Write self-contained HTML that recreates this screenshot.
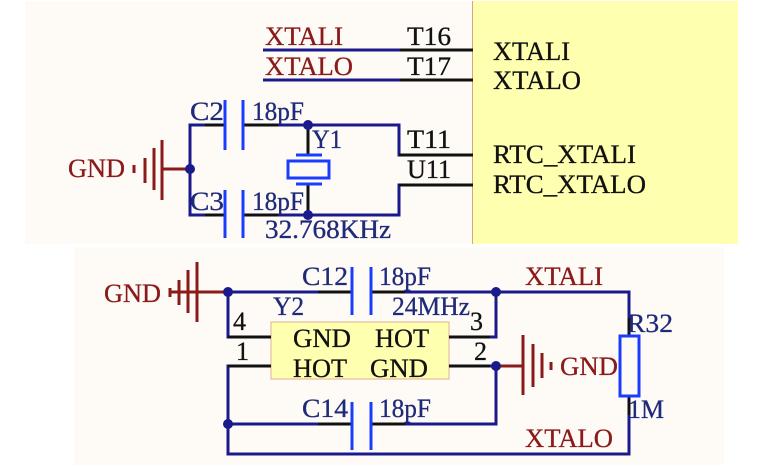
<!DOCTYPE html>
<html><head><meta charset="utf-8"><style>
html,body{margin:0;padding:0;background:#fff;}
svg{display:block;font-family:"Liberation Serif",serif;}
</style></head><body>
<svg width="781" height="465" viewBox="0 0 781 465" xmlns="http://www.w3.org/2000/svg">
<rect x="25" y="1" width="447" height="243" fill="#fefbf7"/>
<rect x="472" y="1" width="266" height="243" fill="#ffffb0"/>
<line x1="472.5" y1="1" x2="472.5" y2="244" stroke="#d9a08a" stroke-width="1"/>
<rect x="74" y="247" width="650" height="218" fill="#fefbf7"/>

<g font-size="26" stroke-width="0.3">
<text x="265" y="45" fill="#8b1a1a" stroke="#8b1a1a" textLength="78" lengthAdjust="spacingAndGlyphs">XTALI</text>
<text x="265" y="75" fill="#8b1a1a" stroke="#8b1a1a" textLength="88" lengthAdjust="spacingAndGlyphs">XTALO</text>
<text x="407" y="45" fill="#111" stroke="#111" textLength="44" lengthAdjust="spacingAndGlyphs">T16</text>
<text x="407" y="75" fill="#111" stroke="#111" textLength="44" lengthAdjust="spacingAndGlyphs">T17</text>
<text x="407" y="148" fill="#111" stroke="#111" textLength="44" lengthAdjust="spacingAndGlyphs">T11</text>
<text x="407" y="178" fill="#111" stroke="#111" textLength="44" lengthAdjust="spacingAndGlyphs">U11</text>
<text x="493" y="60" fill="#111" stroke="#111" textLength="77" lengthAdjust="spacingAndGlyphs">XTALI</text>
<text x="493" y="89" fill="#111" stroke="#111" textLength="88" lengthAdjust="spacingAndGlyphs">XTALO</text>
<text x="493" y="163" fill="#111" stroke="#111" textLength="143" lengthAdjust="spacingAndGlyphs">RTC_XTALI</text>
<text x="493" y="193" fill="#111" stroke="#111" textLength="153" lengthAdjust="spacingAndGlyphs">RTC_XTALO</text>
<text x="68" y="177" fill="#8b1a1a" stroke="#8b1a1a" textLength="57" lengthAdjust="spacingAndGlyphs">GND</text>
<text x="190" y="120" fill="#1f2a7a" stroke="#1f2a7a" textLength="34" lengthAdjust="spacingAndGlyphs">C2</text>
<text x="252" y="120" fill="#1f2a7a" stroke="#1f2a7a" textLength="52" lengthAdjust="spacingAndGlyphs">18pF</text>
<text x="190" y="210" fill="#1f2a7a" stroke="#1f2a7a" textLength="34" lengthAdjust="spacingAndGlyphs">C3</text>
<text x="252" y="210" fill="#1f2a7a" stroke="#1f2a7a" textLength="52" lengthAdjust="spacingAndGlyphs">18pF</text>
<text x="312" y="148" fill="#1f2a7a" stroke="#1f2a7a" textLength="30" lengthAdjust="spacingAndGlyphs">Y1</text>
<text x="265" y="238" fill="#1f2a7a" stroke="#1f2a7a" textLength="126" lengthAdjust="spacingAndGlyphs">32.768KHz</text>
</g>
<g stroke-width="3" fill="none">
<line x1="263" y1="50" x2="400" y2="50" stroke="#1a1a8c"/>
<line x1="400" y1="50" x2="473" y2="50" stroke="#111"/>
<line x1="263" y1="80" x2="400" y2="80" stroke="#1a1a8c"/>
<line x1="400" y1="80" x2="473" y2="80" stroke="#111"/>
<line x1="163" y1="169" x2="190" y2="169" stroke="#8b1a1a"/>
<line x1="162" y1="140" x2="162" y2="200" stroke="#8b1a1a"/>
<line x1="154" y1="148" x2="154" y2="190" stroke="#8b1a1a"/>
<line x1="145" y1="158" x2="145" y2="183" stroke="#8b1a1a"/>
<line x1="134" y1="165" x2="134" y2="173" stroke="#8b1a1a"/>
<polyline points="225,125 190,125 190,215 225,215" stroke="#1a1a8c"/>
<line x1="205" y1="125" x2="225" y2="125" stroke="#111"/>
<line x1="205" y1="215" x2="225" y2="215" stroke="#111"/>
<polyline points="243,125 399,125 399,155 473,155" stroke="#1a1a8c"/>
<polyline points="243,215 399,215 399,185 473,185" stroke="#1a1a8c"/>
<line x1="243" y1="125" x2="278" y2="125" stroke="#111"/>
<line x1="243" y1="215" x2="278" y2="215" stroke="#111"/>
<line x1="399" y1="155" x2="473" y2="155" stroke="#111"/>
<line x1="399" y1="185" x2="473" y2="185" stroke="#111"/>
<line x1="225" y1="100" x2="225" y2="150" stroke="#1a3cff"/>
<line x1="243" y1="100" x2="243" y2="150" stroke="#1a3cff"/>
<line x1="225" y1="190" x2="225" y2="238" stroke="#1a3cff"/>
<line x1="243" y1="190" x2="243" y2="238" stroke="#1a3cff"/>
<line x1="308" y1="125" x2="308" y2="155" stroke="#111"/>
<line x1="308" y1="183" x2="308" y2="215" stroke="#111"/>
<line x1="296" y1="155" x2="322" y2="155" stroke="#1a3cff"/>
<rect x="288" y="161" width="41" height="17" stroke="#1a3cff"/>
<line x1="296" y1="184" x2="322" y2="184" stroke="#1a3cff"/>
</g>
<g fill="#1a1a8c">
<circle cx="190" cy="169" r="5"/><circle cx="308" cy="125" r="5"/><circle cx="308" cy="215" r="5"/>
</g>

<rect x="271" y="322" width="178" height="57" fill="#ffffb0" stroke="#e0b090" stroke-width="1"/>
<g stroke-width="3" fill="none">
<line x1="171" y1="292" x2="228" y2="292" stroke="#8b1a1a"/>
<line x1="197" y1="262" x2="197" y2="322" stroke="#8b1a1a"/>
<line x1="188" y1="270" x2="188" y2="313" stroke="#8b1a1a"/>
<line x1="179" y1="280" x2="179" y2="305" stroke="#8b1a1a"/>
<line x1="170" y1="288" x2="170" y2="297" stroke="#8b1a1a"/>
<polyline points="271,337 228,337 228,292 352,292" stroke="#1a1a8c"/>
<polyline points="371,292 629,292 629,336" stroke="#1a1a8c"/>
<polyline points="449,337 496,337 496,292" stroke="#1a1a8c"/>
<polyline points="271,366 228,366 228,454 629,454 629,396" stroke="#1a1a8c"/>
<polyline points="449,366 496,366 496,424 371,424" stroke="#1a1a8c"/>
<line x1="228" y1="424" x2="352" y2="424" stroke="#1a1a8c"/>
<line x1="228" y1="337" x2="271" y2="337" stroke="#111"/>
<line x1="228" y1="366" x2="271" y2="366" stroke="#111"/>
<line x1="449" y1="337" x2="490" y2="337" stroke="#111"/>
<line x1="449" y1="366" x2="490" y2="366" stroke="#111"/>
<line x1="318" y1="292" x2="352" y2="292" stroke="#111"/>
<line x1="371" y1="292" x2="405" y2="292" stroke="#111"/>
<line x1="318" y1="424" x2="352" y2="424" stroke="#111"/>
<line x1="371" y1="424" x2="405" y2="424" stroke="#111"/>
<line x1="629" y1="318" x2="629" y2="336" stroke="#111"/>
<line x1="629" y1="396" x2="629" y2="415" stroke="#111"/>
<line x1="352" y1="267" x2="352" y2="315" stroke="#1a3cff"/>
<line x1="371" y1="267" x2="371" y2="315" stroke="#1a3cff"/>
<line x1="352" y1="402" x2="352" y2="450" stroke="#1a3cff"/>
<line x1="371" y1="402" x2="371" y2="450" stroke="#1a3cff"/>
<rect x="620" y="336" width="19" height="60" stroke="#1a3cff"/>
<line x1="496" y1="366" x2="523" y2="366" stroke="#8b1a1a"/>
<line x1="523" y1="335" x2="523" y2="395" stroke="#8b1a1a"/>
<line x1="533" y1="344" x2="533" y2="387" stroke="#8b1a1a"/>
<line x1="542" y1="353" x2="542" y2="378" stroke="#8b1a1a"/>
<line x1="551" y1="362" x2="551" y2="370" stroke="#8b1a1a"/>
</g>
<g fill="#1a1a8c">
<circle cx="228" cy="292" r="5"/><circle cx="496" cy="292" r="5"/><circle cx="496" cy="366" r="5"/><circle cx="228" cy="424" r="5"/>
</g>
<g font-size="26" stroke-width="0.3">
<text x="104" y="302" fill="#8b1a1a" stroke="#8b1a1a" textLength="57" lengthAdjust="spacingAndGlyphs">GND</text>
<text x="560" y="375" fill="#8b1a1a" stroke="#8b1a1a" textLength="58" lengthAdjust="spacingAndGlyphs">GND</text>
<text x="302" y="285" fill="#1f2a7a" stroke="#1f2a7a" textLength="46" lengthAdjust="spacingAndGlyphs">C12</text>
<text x="379" y="285" fill="#1f2a7a" stroke="#1f2a7a" textLength="52" lengthAdjust="spacingAndGlyphs">18pF</text>
<text x="302" y="417" fill="#1f2a7a" stroke="#1f2a7a" textLength="46" lengthAdjust="spacingAndGlyphs">C14</text>
<text x="379" y="417" fill="#1f2a7a" stroke="#1f2a7a" textLength="52" lengthAdjust="spacingAndGlyphs">18pF</text>
<text x="273" y="315" fill="#1f2a7a" stroke="#1f2a7a" textLength="31" lengthAdjust="spacingAndGlyphs">Y2</text>
<text x="392" y="315" fill="#1f2a7a" stroke="#1f2a7a" textLength="78" lengthAdjust="spacingAndGlyphs">24MHz</text>
<text x="525" y="285" fill="#8b1a1a" stroke="#8b1a1a" textLength="78" lengthAdjust="spacingAndGlyphs">XTALI</text>
<text x="525" y="447" fill="#8b1a1a" stroke="#8b1a1a" textLength="88" lengthAdjust="spacingAndGlyphs">XTALO</text>
<text x="627" y="332" fill="#1f2a7a" stroke="#1f2a7a" textLength="46" lengthAdjust="spacingAndGlyphs">R32</text>
<text x="628" y="418" fill="#1f2a7a" stroke="#1f2a7a" textLength="36" lengthAdjust="spacingAndGlyphs">1M</text>
<text x="233" y="330" fill="#111" stroke="#111">4</text>
<text x="470" y="330" fill="#111" stroke="#111">3</text>
<text x="236" y="360" fill="#111" stroke="#111">1</text>
<text x="474" y="360" fill="#111" stroke="#111">2</text>
<text x="293" y="347" fill="#111" stroke="#111" textLength="58" lengthAdjust="spacingAndGlyphs">GND</text>
<text x="375" y="347" fill="#111" stroke="#111" textLength="54" lengthAdjust="spacingAndGlyphs">HOT</text>
<text x="293" y="377" fill="#111" stroke="#111" textLength="54" lengthAdjust="spacingAndGlyphs">HOT</text>
<text x="370" y="377" fill="#111" stroke="#111" textLength="58" lengthAdjust="spacingAndGlyphs">GND</text>
</g>
</svg>
</body></html>
